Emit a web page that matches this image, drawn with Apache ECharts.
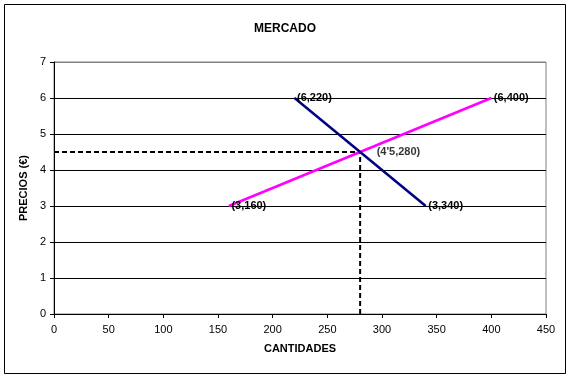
<!DOCTYPE html>
<html><head><meta charset="utf-8">
<script src="https://cdn.jsdelivr.net/npm/echarts@6/dist/echarts.min.js"></script>
<style>html,body{margin:0;padding:0;background:#fff}#c{width:570px;height:379px}</style>
</head><body><div id="c"></div>
<script>
const xTicks = [0,50,100,150,200,250,300,350,400,450];
const yTicks = [0,1,2,3,4,5,6,7];
const demandQ = [220, 340];
const demandP = [6, 3];
const supplyQ = [160, 400];
const supplyP = [3, 6];
const eqQ = 280, eqP = 4.5;
const demandLabels = ['(6,220)', '(3,340)'];
const supplyLabels = ['(3,160)', '(6,400)'];
const eqLabel = "(4'5,280)";

const lbl = {show:true, position:'right', distance:2, fontFamily:'Arial, Liberation Sans', fontSize:11, fontWeight:'bold', color:'#000'};
const chart = echarts.init(document.getElementById('c'));
chart.setOption({
  animation:false,
  backgroundColor:'#fff',
  title:{text:'MERCADO', left:'center', top:18, textStyle:{fontFamily:'Arial, Liberation Sans', fontSize:12, fontWeight:'bold', color:'#000'}},
  grid:{left:54, right:24, top:62, bottom:65, show:true, borderColor:'#808080', borderWidth:1},
  xAxis:{type:'value', min:xTicks[0], max:xTicks[xTicks.length-1], interval:50,
    name:'CANTIDADES', nameLocation:'middle', nameGap:29,
    nameTextStyle:{fontFamily:'Arial, Liberation Sans', fontSize:11, fontWeight:'bold', color:'#000'},
    axisLine:{lineStyle:{color:'#000'}}, axisTick:{show:true, length:4, lineStyle:{color:'#000'}},
    axisLabel:{fontFamily:'Arial, Liberation Sans', fontSize:11, color:'#000', margin:10},
    splitLine:{show:false}},
  yAxis:{type:'value', min:yTicks[0], max:yTicks[yTicks.length-1], interval:1,
    name:'PRECIOS (€)', nameLocation:'middle', nameGap:22, nameRotate:90,
    nameTextStyle:{fontFamily:'Arial, Liberation Sans', fontSize:11, fontWeight:'bold', color:'#000'},
    axisLine:{show:true, lineStyle:{color:'#000'}}, axisTick:{show:true, length:4, lineStyle:{color:'#000'}},
    axisLabel:{fontFamily:'Arial, Liberation Sans', fontSize:11, color:'#000', margin:8},
    splitLine:{show:true, lineStyle:{color:['#000','#000','#000','#000','#000','#000','#000','#808080'], width:1}}},
  series:[
    {type:'line', name:'h', data:[[xTicks[0], eqP],[eqQ, eqP]], symbol:'none', lineStyle:{color:'#000', width:2, type:[5,3]}, z:2},
    {type:'line', name:'v', data:[[eqQ, yTicks[0]],[eqQ, eqP]], symbol:'none', lineStyle:{color:'#000', width:2, type:[5,3]}, z:2},
    {type:'line', name:'Oferta', data:supplyQ.map((q,i)=>({value:[q, supplyP[i]], label:Object.assign({}, lbl, {formatter:supplyLabels[i]})})),
      symbol:'circle', symbolSize:1, showSymbol:true, itemStyle:{color:'#ff00ff'}, lineStyle:{color:'#ff00ff', width:2.5}, z:3},
    {type:'line', name:'Demanda', data:demandQ.map((q,i)=>({value:[q, demandP[i]], label:Object.assign({}, lbl, {formatter:demandLabels[i]})})),
      symbol:'circle', symbolSize:1, showSymbol:true, itemStyle:{color:'#000080'}, lineStyle:{color:'#000080', width:2.5}, z:4},
    {type:'scatter', name:'eq', data:[{value:[eqQ, eqP], label:Object.assign({}, lbl, {formatter:eqLabel, distance:16})}], symbolSize:1, itemStyle:{color:'#000'}, z:5}
  ],
  graphic:[{type:'rect', shape:{x:4.5, y:4.5, width:561, height:369}, style:{fill:'none', stroke:'#000', lineWidth:1}, silent:true}]
});
</script></body></html>
